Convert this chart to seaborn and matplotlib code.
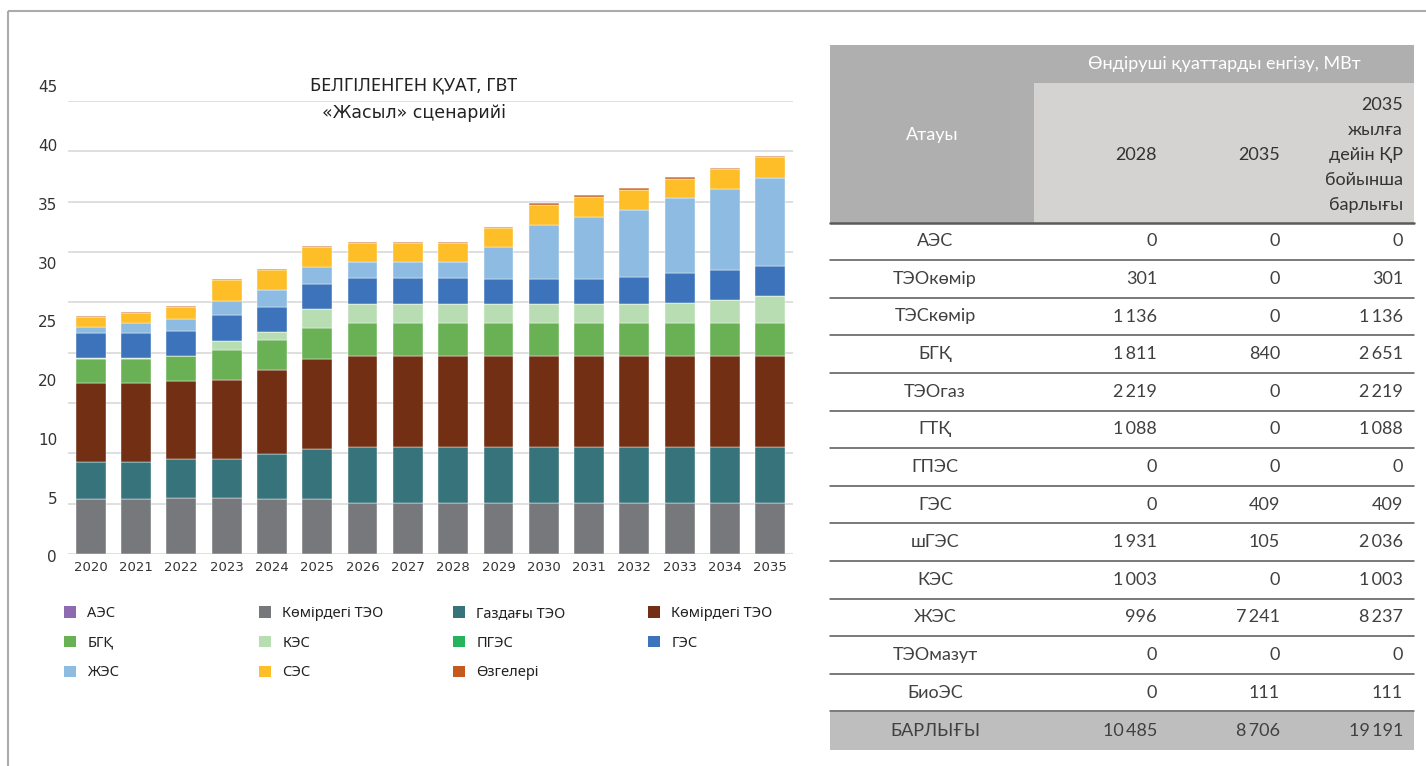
import matplotlib
matplotlib.use("Agg")
import matplotlib.pyplot as plt
import seaborn as sns
import numpy as np
from matplotlib.patches import Patch, Rectangle

# ---- chart data (GW) ----
years = [str(y) for y in range(2020, 2036)]
ndc = 10  # 2026..2035 share the same lower blocks
coal_chp = [5.44, 5.44, 5.57, 5.57, 5.44, 5.44] + [5.04] * ndc
gas_chp = [3.67, 3.67, 3.91, 3.91, 4.47, 4.97] + [5.60] * ndc
coal_tpp = [7.92, 7.92, 7.75, 7.85, 8.38, 9.00] + [9.01] * ndc
bgk = [2.35, 2.35, 2.42, 2.97, 2.95, 3.09] + [3.34] * ndc
kes = [0.10, 0.10, 0.05, 0.84, 0.83, 1.85, 1.83, 1.83, 1.83, 1.83, 1.83, 1.83, 1.83, 1.96, 2.29, 2.61]
pges = [0.0] * 16
ges = [2.46, 2.46, 2.50, 2.56, 2.51, 2.52, 2.55, 2.55, 2.55, 2.48, 2.48, 2.48, 2.65, 2.95, 2.98, 2.96]
zhes = [0.56, 0.96, 1.10, 1.48, 1.66, 1.63, 1.59, 1.59, 1.59, 3.15, 5.40, 6.20, 6.73, 7.46, 8.02, 8.84]
ses = [1.00, 1.00, 1.20, 1.99, 1.96, 1.95, 1.94, 1.94, 1.94, 1.95, 2.00, 2.00, 2.00, 1.94, 1.96, 2.00]
other = [0.12] * 16
aes = [0.0] * 16

# legend order (row-major as in the reference)
legend_labels = ["АЭС", "Көмірдегі ТЭО", "Газдағы ТЭО", "Көмірдегі ТЭО",
                 "БГҚ", "КЭС", "ПГЭС", "ГЭС",
                 "ЖЭС", "СЭС", "Өзгелері"]
legend_colors = ["#8C6BB1", "#77787B", "#37737A", "#722F14",
                 "#6AB155", "#B8DDB2", "#27B25C", "#3C73BA",
                 "#8DBBE1", "#FDBE27", "#C55A1F"]

# stacking order bottom -> top
stack = [(coal_chp, "#77787B"), (gas_chp, "#37737A"), (coal_tpp, "#722F14"),
         (bgk, "#6AB155"), (kes, "#B8DDB2"), (pges, "#27B25C"), (ges, "#3C73BA"),
         (zhes, "#8DBBE1"), (ses, "#FDBE27"), (other, "#C55A1F"), (aes, "#8C6BB1")]

y_grid = list(range(0, 50, 5))
y_labels = ["0", "5", "10", "20", "25", "30", "35", "40", "45"]

# ---- table data (MW) ----
tbl_names = ["АЭС", "ТЭОкөмір", "ТЭСкөмір", "БГҚ", "ТЭОгаз", "ГТҚ", "ГПЭС",
             "ГЭС", "шГЭС", "КЭС", "ЖЭС", "ТЭОмазут", "БиоЭС"]
tbl_2028 = [0, 301, 1136, 1811, 2219, 1088, 0, 0, 1931, 1003, 996, 0, 0]
tbl_2035 = [0, 0, 0, 840, 0, 0, 0, 409, 105, 0, 7241, 0, 111]
tbl_total = [0, 301, 1136, 2651, 2219, 1088, 0, 409, 2036, 1003, 8237, 0, 111]
sum_label = "БАРЛЫҒЫ"
sum_vals = [10485, 8706, 19191]
hdr_group = "Өндіруші қуаттарды енгізу, МВт"
hdr_name = "Атауы"
hdr_cols = ["2028", "2035", "2035\nжылға\nдейін ҚР\nбойынша\nбарлығы"]

sns.set_style("white")
cond = ["Liberation Sans Narrow", "Noto Sans", "DejaVu Sans"]
body = ["Lato", "Open Sans", "DejaVu Sans"]
plt.rcParams["font.family"] = body

W, H = 1426, 766
fig = plt.figure(figsize=(W / 100, H / 100), dpi=100)

# background canvas in pixel coordinates (frame + table)
bg = fig.add_axes([0, 0, 1, 1], zorder=0)
bg.set_xlim(0, W)
bg.set_ylim(H, 0)
bg.axis("off")
bg.plot([8, W], [11, 11], color="#ABABAB", lw=1.5, solid_capstyle="butt")
bg.plot([8, 8], [11, H], color="#ABABAB", lw=1.5, solid_capstyle="butt")

# ---- table ----
tx0, tx1, tsplit = 830, 1414, 1034
hdr_top, hdr_mid, hdr_bot = 45, 83, 222.5
row_h = 37.6
fs = 13
bg.add_patch(Rectangle((tx0, hdr_top), tx1 - tx0, hdr_bot - hdr_top, color="#AEAFAE", lw=0))
bg.add_patch(Rectangle((tsplit, hdr_mid), tx1 - tsplit, hdr_bot - hdr_mid, color="#D4D3D1", lw=0))
bg.text((tsplit + tx1) / 2, 64, hdr_group, ha="center", va="center", fontsize=fs, color="white")
bg.text((tx0 + tsplit) / 2, 135, hdr_name, ha="center", va="center", fontsize=fs, color="white")
col_right = [1157, 1280, 1403]
bg.text(col_right[0], 155, hdr_cols[0], ha="right", va="center", fontsize=fs, color="#333333")
bg.text(col_right[1], 155, hdr_cols[1], ha="right", va="center", fontsize=fs, color="#333333")
bg.text(col_right[2], 155, hdr_cols[2], ha="right", va="center", fontsize=fs,
        color="#333333", linespacing=1.68)
bg.plot([tx0, tx1], [hdr_bot, hdr_bot], color="#5A5A5A", lw=1.8)


def fmt(v):
    return f"{v:,}".replace(",", "\u2009")


n = len(tbl_names)
for i in range(n):
    yc = hdr_bot + row_h * (i + 0.5)
    bg.text(935, yc, tbl_names[i], ha="center", va="center", fontsize=fs, color="#404040")
    for cx, vals in zip(col_right, [tbl_2028, tbl_2035, tbl_total]):
        bg.text(cx, yc, fmt(vals[i]), ha="right", va="center", fontsize=fs, color="#404040")
    yl = hdr_bot + row_h * (i + 1)
    bg.plot([tx0, tx1], [yl, yl], color="#555555", lw=1.1)
sum_top = hdr_bot + row_h * n
bg.add_patch(Rectangle((tx0, sum_top + 0.8), tx1 - tx0, row_h, color="#BEBEBE", lw=0, zorder=0.5))
yc = sum_top + row_h / 2 + 0.8
bg.text(935, yc, sum_label, ha="center", va="center", fontsize=fs, color="#404040")
for cx, v in zip(col_right, sum_vals):
    bg.text(cx, yc, fmt(v), ha="right", va="center", fontsize=fs, color="#404040")

# ---- stacked bar chart ----
ax = fig.add_axes([68 / W, 1 - 554 / H, (793 - 68) / W, (554 - 101) / H], zorder=1)
ax.patch.set_alpha(0)
bottom = np.zeros(len(years))
for vals, col in stack:
    sns.barplot(x=years, y=vals, bottom=bottom, color=col, width=0.66, saturation=1,
                errorbar=None, edgecolor="white", linewidth=0.3, ax=ax, zorder=3)
    bottom = bottom + np.array(vals)

ax.set_ylim(0, 45)
ax.set_xlim(-0.5, len(years) - 0.5)
ax.set_yticks(y_grid)
ax.set_yticklabels([])
ax.tick_params(axis="y", length=0)
ax.tick_params(axis="x", length=0, pad=5, labelsize=9.5, labelcolor="#333333")
for lab in ax.get_xticklabels():
    lab.set_family(["DejaVu Sans"])
ax.yaxis.grid(True, color="#DCDCDC", lw=1.3, zorder=0)
ax.set_axisbelow(True)
for s in ax.spines.values():
    s.set_visible(False)
ax.set_xlabel("")
ax.set_ylabel("")

# y labels sit on their own evenly spaced positions, as in the original
for i, lab in enumerate(y_labels):
    ax.text(-0.015, -0.0088 + 0.1297 * i, lab, transform=ax.transAxes, ha="right",
            va="center", fontsize=11, color="#333333", family=["DejaVu Sans"])

fig.text(414 / W, 1 - 85 / H, "БЕЛГІЛЕНГЕН ҚУАТ, ГВТ", ha="center", va="center",
         fontsize=13, color="#222222", family=cond)
fig.text(414 / W, 1 - 113 / H, "«Жасыл» сценарийі", ha="center", va="center",
         fontsize=12.5, color="#222222", family=["DejaVu Sans"])

# ---- legend: four columns, row-major order ----
col_x = [64, 259, 453, 648]
for c in range(4):
    idx = [k for k in range(c, len(legend_labels), 4)]
    handles = [Patch(facecolor=legend_colors[k], edgecolor="none") for k in idx]
    leg = fig.legend(handles, [legend_labels[k] for k in idx], loc="upper left",
                     bbox_to_anchor=(col_x[c] / W, 1 - 606 / H), frameon=False,
                     handlelength=0.8, handleheight=0.8, handletextpad=0.8,
                     labelspacing=1.0, borderpad=0, borderaxespad=0,
                     prop={"family": cond, "size": 10.5})
    for t in leg.get_texts():
        t.set_color("#222222")

fig.savefig("out.png", dpi=100)
